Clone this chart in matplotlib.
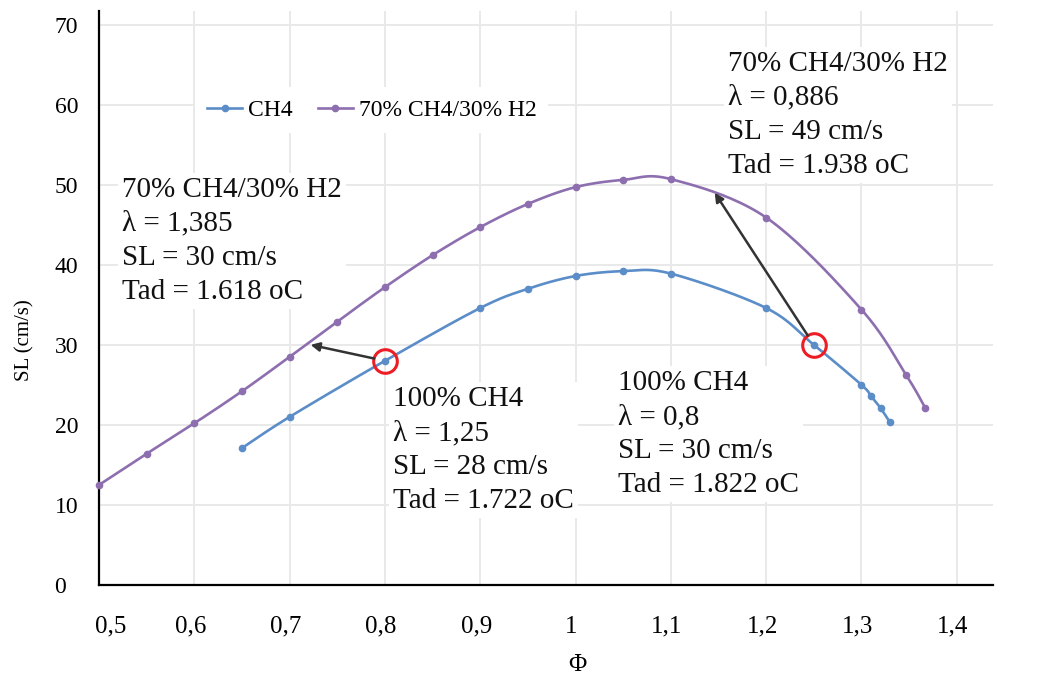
import numpy as np
import matplotlib
matplotlib.use("Agg")
import matplotlib.pyplot as plt
import matplotlib.transforms as mtransforms
from matplotlib.lines import Line2D

# Laminar flame speed vs equivalence ratio
phi_ch4 = [0.65, 0.70, 0.80, 0.90, 0.95, 1.00, 1.05, 1.10, 1.20, 1.25, 1.30, 1.31, 1.32, 1.33]
sl_ch4 = [17.1, 21.0, 28.0, 34.6, 37.0, 38.6, 39.2, 38.9, 34.6, 30.0, 25.0, 23.6, 22.1, 20.3]

phi_mix = [0.50, 0.55, 0.60, 0.65, 0.70, 0.75, 0.80, 0.85, 0.90, 0.95, 1.00, 1.05, 1.10, 1.20, 1.30, 1.347, 1.367]
sl_mix = [12.5, 16.4, 20.2, 24.2, 28.5, 32.9, 37.2, 41.2, 44.7, 47.6, 49.7, 50.6, 50.7, 45.9, 34.4, 26.2, 22.1]

series_names = ["CH4", "70% CH4/30% H2"]
x_ticks = [0.5, 0.6, 0.7, 0.8, 0.9, 1.0, 1.1, 1.2, 1.3, 1.4]
x_tick_labels = ["0,5", "0,6", "0,7", "0,8", "0,9", "1", "1,1", "1,2", "1,3", "1,4"]
y_ticks = [0, 10, 20, 30, 40, 50, 60, 70]

# highlighted operating points (phi, SL) and where their arrows point
ch4_point_a = (0.80, 28.0)
ch4_point_b = (1.25, 30.0)
mix_target_a = (0.722, 30.0)
mix_target_b = (1.146, 49.0)

note_mix_a = "70% CH4/30% H2\nλ = 1,385\nSL = 30 cm/s\nTad = 1.618 oC"
note_mix_b = "70% CH4/30% H2\nλ = 0,886\nSL = 49 cm/s\nTad = 1.938 oC"
note_ch4_a = "100% CH4\nλ = 1,25\nSL = 28 cm/s\nTad = 1.722 oC"
note_ch4_b = "100% CH4\nλ = 0,8\nSL = 30 cm/s\nTad = 1.822 oC"

BLUE = "#5b8dc8"
PURPLE = "#8d6fb0"
SERIF = ["Liberation Serif", "DejaVu Serif"]


def smooth_curve(xs, ys, sx=953.0, sy=8.0, n=24):
    """Bezier smoothing through the points (Catmull-Rom style control points)."""
    p = np.column_stack([np.asarray(xs) * sx, np.asarray(ys) * sy])
    ext = np.vstack([p[0], p, p[-1]])
    out = []
    t = np.linspace(0, 1, n)[:, None]
    for i in range(len(p) - 1):
        p0, p1, p2, p3 = ext[i], ext[i + 1], ext[i + 2], ext[i + 3]
        c1 = p1 + (p2 - p0) / 6.0
        c2 = p2 - (p3 - p1) / 6.0
        seg = ((1 - t) ** 3) * p1 + 3 * ((1 - t) ** 2) * t * c1 + 3 * (1 - t) * t ** 2 * c2 + t ** 3 * p2
        out.append(seg if i == 0 else seg[1:])
    c = np.vstack(out)
    return c[:, 0] / sx, c[:, 1] / sy


fig = plt.figure(figsize=(10.49, 6.75), dpi=100)
ax = fig.add_axes([99 / 1049, 1 - 585 / 675, 894 / 1049, 574 / 675])
ax.set_xlim(0.5, 1.438)
ax.set_ylim(0, 71.7)

for s in ["top", "right"]:
    ax.spines[s].set_visible(False)
for s in ["left", "bottom"]:
    ax.spines[s].set_linewidth(1.6)
    ax.spines[s].set_color("black")

ax.set_xticks(x_ticks)
ax.set_xticklabels(x_tick_labels)
ax.set_yticks(y_ticks)
ax.tick_params(axis="both", length=0)
ax.tick_params(axis="x", pad=22, labelsize=18)
ax.tick_params(axis="y", pad=32, labelsize=17)
for lab in ax.get_yticklabels():
    lab.set_horizontalalignment("left")
for lab in ax.get_xticklabels() + ax.get_yticklabels():
    lab.set_fontfamily(SERIF)

# x labels sit slightly left of their gridlines; the first one is nudged inward
for i, lab in enumerate(ax.get_xticklabels()):
    dx = 12 if i == 0 else -4
    lab.set_transform(lab.get_transform() +
                      mtransforms.ScaledTranslation(dx / 100, 0, fig.dpi_scale_trans))

ax.grid(True, color="#e9e9e9", linewidth=1.4, zorder=0)
ax.set_axisbelow(True)

# curves
cx, cy = smooth_curve(phi_ch4, sl_ch4)
ax.plot(cx, cy, color=BLUE, lw=1.9, zorder=3, solid_capstyle="round")
ax.plot(phi_ch4, sl_ch4, "o", color=BLUE, ms=4.5, zorder=4)

mx, my = smooth_curve(phi_mix, sl_mix)
ax.plot(mx, my, color=PURPLE, lw=1.9, zorder=3, solid_capstyle="round")
ax.plot(phi_mix, sl_mix, "o", color=PURPLE, ms=4.5, zorder=4, clip_on=False)

# highlighted points and arrows
for pt in (ch4_point_a, ch4_point_b):
    ax.plot(*pt, "o", ms=17, mfc="none", mec="#ee1c24", mew=2.2, zorder=5)
for tail, head in ((ch4_point_a, mix_target_a), (ch4_point_b, mix_target_b)):
    ax.annotate("", xy=head, xytext=tail,
                arrowprops=dict(arrowstyle="-|>", color="#333333", lw=1.8,
                                mutation_scale=13, shrinkA=8, shrinkB=0),
                zorder=6)

# annotation blocks (anchored on the baseline of their last line)
txt_kw = dict(fontsize=21, family=SERIF, va="baseline", ha="left", linespacing=1.40,
              color="#111111", zorder=2,
              bbox=dict(facecolor="white", edgecolor="none", pad=3))
ax.text(0.524, 35.75, note_mix_a, **txt_kw)
ax.text(1.160, 51.5, note_mix_b, **txt_kw)
ax.text(0.8085, 9.6, note_ch4_a, **txt_kw)
ax.text(1.0446, 11.6, note_ch4_b, **txt_kw)

# axis titles
ax.set_xlabel("Φ", fontsize=18, family=SERIF)
ax.xaxis.set_label_coords(0.535, -0.12)
ax.set_ylabel("SL (cm/s)", fontsize=15, family=SERIF)
ax.yaxis.label.set_va("center")
ax.yaxis.set_label_coords(-0.083, 0.427)

# legend
handles = [Line2D([], [], color=BLUE, lw=1.9, marker="o", ms=4.5),
           Line2D([], [], color=PURPLE, lw=1.9, marker="o", ms=4.5)]
leg = fig.legend(handles, series_names, loc="center left",
                 bbox_to_anchor=(195 / 1049, 1 - 110 / 675), ncol=2,
                 frameon=True, fancybox=False, framealpha=1, edgecolor="none",
                 facecolor="white", borderpad=0.5, borderaxespad=0,
                 handlelength=1.5, handletextpad=0.25, columnspacing=1.05,
                 prop=dict(family=SERIF, size=17))

fig.savefig("out.png", dpi=100)
